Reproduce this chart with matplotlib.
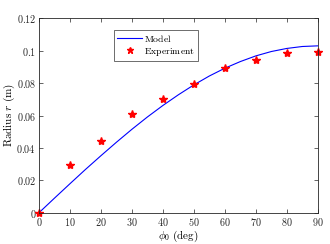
import matplotlib
matplotlib.use("Agg")
import matplotlib.pyplot as plt

plt.rcParams["font.family"] = "serif"
plt.rcParams["font.serif"] = ["DejaVu Serif"]
plt.rcParams["mathtext.fontset"] = "cm"

# model curve (every 5 deg)
model_phi = [0, 5, 10, 15, 20, 25, 30, 35, 40, 45, 50, 55, 60, 65, 70, 75, 80, 85, 90]
model_r = [0.0, 0.0090, 0.0179, 0.0267, 0.0352, 0.0435, 0.0515, 0.0591, 0.0662, 0.0728,
           0.0789, 0.0844, 0.0892, 0.0933, 0.0968, 0.0995, 0.1014, 0.1026, 0.1030]

# measured points
exp_phi = [0, 10, 20, 30, 40, 50, 60, 70, 80, 90]
exp_r = [0.0, 0.0294, 0.0444, 0.0607, 0.0700, 0.0796, 0.0893, 0.0944, 0.0988, 0.0994]

xticks = [0, 10, 20, 30, 40, 50, 60, 70, 80, 90]
yticks = [0, 0.02, 0.04, 0.06, 0.08, 0.1, 0.12]
ytick_labels = ["0", "0.02", "0.04", "0.06", "0.08", "0.1", "0.12"]

fig = plt.figure(figsize=(3.3, 2.44), dpi=100)
ax = fig.add_axes([0.118, 0.128, 0.845, 0.797])

ax.plot(model_phi, model_r, color="b", linewidth=0.8, label=r"$\mathrm{Model}$")
ax.plot(exp_phi, exp_r, linestyle="none", marker="*", color="red", markersize=6,
        label=r"$\mathrm{Experiment}$", clip_on=False)

ax.set_xlim(0, 90)
ax.set_ylim(0, 0.12)
ax.set_xticks(xticks)
ax.set_xticklabels([f"${t}$" for t in xticks])
ax.set_yticks(yticks)
ax.set_yticklabels([f"${t}$" for t in ytick_labels])

axis_gray = "#262626"
for s in ax.spines.values():
    s.set_color(axis_gray)
    s.set_linewidth(0.6)
ax.tick_params(direction="in", top=True, right=True, length=3, width=0.5,
               labelsize=7.3, colors=axis_gray, pad=2)

ax.set_xlabel(r"$\phi_0\ \mathrm{(deg)}$", fontsize=8, labelpad=1)
ax.set_ylabel(r"$\mathrm{Radius}\ r\ \mathrm{(m)}$", fontsize=8)
ax.yaxis.set_label_coords(-0.078, 0.5)

leg = ax.legend(loc="upper left", bbox_to_anchor=(0.269, 0.94), fontsize=7,
                fancybox=False, framealpha=1, edgecolor="#555555",
                borderpad=0.3, labelspacing=0.2, handlelength=2.6, handletextpad=0.2,
                borderaxespad=0, markerscale=0.8)
leg.get_frame().set_linewidth(0.6)

fig.savefig("out.png", dpi=100)
